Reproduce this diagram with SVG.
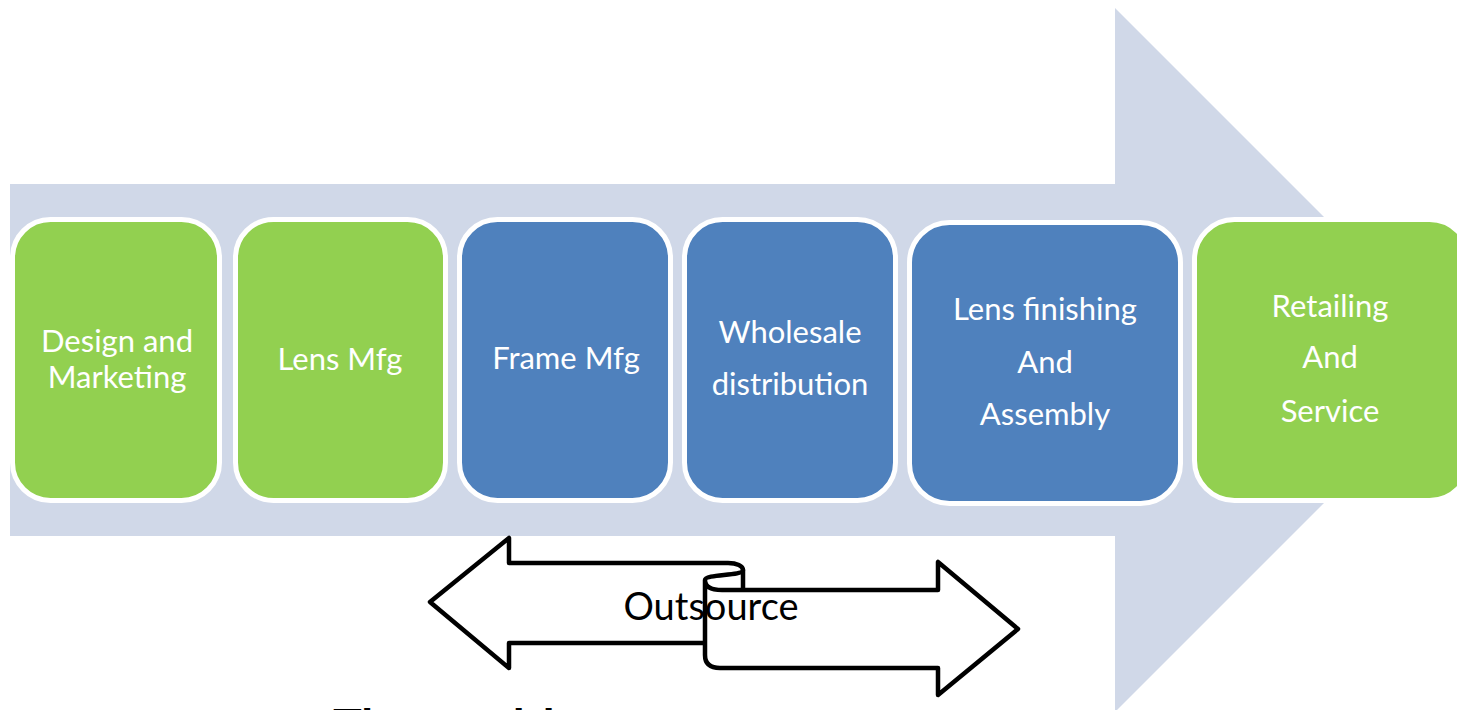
<svg xmlns="http://www.w3.org/2000/svg" width="1457" height="710" viewBox="0 0 1457 710">
  <style>
    .box { stroke: #FFFFFF; stroke-width: 5; }
    .green { fill: #92D050; }
    .blue { fill: #4F81BD; }
    .lbl { font-family: Lato, "Open Sans", "Liberation Sans", sans-serif; font-size: 31px; fill: #FFFFFF; text-anchor: middle; }
    .outline { fill: #FFFFFF; stroke: #000000; stroke-width: 4.5; stroke-linejoin: round; stroke-linecap: round; }
  </style>
  <rect width="1457" height="710" fill="#FFFFFF"/>
  <g id="big-arrow">
    <polygon points="10,184 1115,184 1115,8 1467,360 1115,712 1115,536 10,536" fill="#D0D8E8"/>
  </g>
  <g id="node-design">
    <rect class="box green" x="12.5" y="219.5" width="207" height="281" rx="38"/>
    <text class="lbl" x="117" y="352">Design and</text>
    <text class="lbl" x="117" y="388">Marketing</text>
  </g>
  <g id="node-lens-mfg">
    <rect class="box green" x="235.5" y="219.5" width="210" height="281" rx="38"/>
    <text class="lbl" x="340" y="370">Lens Mfg</text>
  </g>
  <g id="node-frame-mfg">
    <rect class="box blue" x="459.5" y="219.5" width="211" height="281" rx="38"/>
    <text class="lbl" x="566" y="369">Frame Mfg</text>
  </g>
  <g id="node-wholesale">
    <rect class="box blue" x="684.5" y="219.5" width="211" height="281" rx="38"/>
    <text class="lbl" x="790" y="343">Wholesale</text>
    <text class="lbl" x="790" y="395">distribution</text>
  </g>
  <g id="node-lens-finishing">
    <rect class="box blue" x="909.5" y="222.5" width="271" height="281" rx="40"/>
    <text class="lbl" x="1045" y="320">Lens finishing</text>
    <text class="lbl" x="1045" y="373">And</text>
    <text class="lbl" x="1045" y="425">Assembly</text>
  </g>
  <g id="node-retailing">
    <rect class="box green" x="1194.5" y="219.5" width="275" height="281" rx="40"/>
    <text class="lbl" x="1330" y="317">Retailing</text>
    <text class="lbl" x="1330" y="368">And</text>
    <text class="lbl" x="1330" y="422">Service</text>
  </g>
  <g id="connectors">
    <g id="outsource">
      <path class="outline" d="M 705,643 H 509 V 668 L 430,602 L 509,538 V 563 H 728 C 737,563 743,566 743,570 V 590"/>
      <path class="outline" d="M 705,580 V 655 C 705,664 710,668 720,668 H 938 V 695 L 1018,629 L 938,562 V 590 H 722 C 712,590 705,587 705,580 C 705,574 743,576 743,570"/>
      <text x="711" y="620" font-family="Lato, 'Open Sans', 'Liberation Sans', sans-serif" font-size="38" fill="#000000" text-anchor="middle">Outsource</text>
    </g>
  </g>
  <text x="333" y="744" font-family="Lato, 'Liberation Sans', sans-serif" font-weight="bold" font-size="48" fill="#000000">The wealth</text>
</svg>
